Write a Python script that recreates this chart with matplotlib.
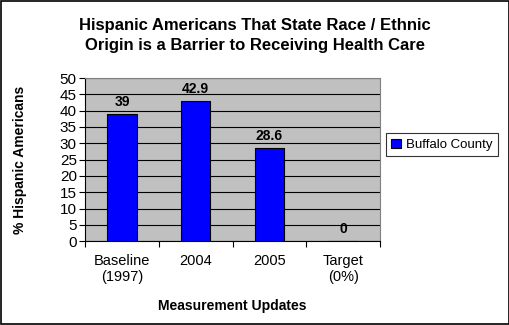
import matplotlib
matplotlib.use("Agg")
import matplotlib.pyplot as plt
import numpy as np

# ── 데이터 ──
categories = ["Baseline\n(1997)", "2004", "2005", "Target\n(0%)"]
values = [39, 42.9, 28.6, 0]
value_labels = ["39", "42.9", "28.6", "0"]
series_name = "Buffalo County"
y_ticks = list(range(0, 51, 5))

plt.rcParams['font.family'] = ['Liberation Sans', 'DejaVu Sans']

fig = plt.figure(figsize=(5.1, 3.25), dpi=100)
fig.patch.set_facecolor("white")
fig.patches.append(plt.Rectangle((0.001, 0.002), 0.997, 0.995, transform=fig.transFigure,
                                 fill=False, edgecolor="black", linewidth=1.2))

ax = fig.add_axes([0.167, 0.258, 0.578, 0.502])
ax.set_facecolor("#C0C0C0")

x = np.arange(len(categories))
bars = ax.bar(x, values, width=0.4, color="#0000FF", edgecolor="black", linewidth=0.8,
              label=series_name, zorder=3)

for xi, v, lbl in zip(x, values, value_labels):
    ax.text(xi, v + 1.5, lbl, ha="center", va="bottom", fontsize=10, fontweight="bold")

ax.set_xlim(-0.5, len(categories) - 0.5)
ax.set_ylim(0, 50)
ax.set_yticks(y_ticks)
ax.tick_params(axis="y", labelsize=11, direction="out", length=4, width=0.8, pad=2)
ax.yaxis.grid(True, color="black", linewidth=0.8, zorder=0)
ax.set_axisbelow(True)

# 카테고리 경계에 눈금
ax.set_xticks(np.arange(-0.5, len(categories), 1.0))
ax.set_xticklabels([])
ax.set_xticks(x, minor=True)
ax.set_xticklabels(categories, minor=True, fontsize=10.5, linespacing=1.2)
ax.tick_params(axis="x", which="major", direction="out", length=4, width=0.8)
ax.tick_params(axis="x", which="minor", length=0, pad=9)

for side in ["top", "right"]:
    ax.spines[side].set_color("#808080")
ax.spines["left"].set_color("black")
ax.spines["bottom"].set_color("black")

ax.set_ylabel("% Hispanic Americans", fontsize=10, fontweight="bold", labelpad=24)
ax.set_xlabel("Measurement Updates", fontsize=10, fontweight="bold", labelpad=11)

fig.text(0.5, 0.945, "Hispanic Americans That State Race / Ethnic\nOrigin is a Barrier to Receiving Health Care",
         ha="center", va="top", fontsize=12, fontweight="bold", linespacing=1.45)

leg = fig.legend(handles=[bars], labels=[series_name], loc="center left",
                 bbox_to_anchor=(0.752, 0.555), fontsize=9.5, frameon=True, fancybox=False,
                 edgecolor="black", handlelength=0.7, handleheight=0.7, handletextpad=0.4,
                 borderpad=0.4, borderaxespad=0.2)
leg.get_frame().set_linewidth(0.8)

fig.savefig("out.png", dpi=100)
